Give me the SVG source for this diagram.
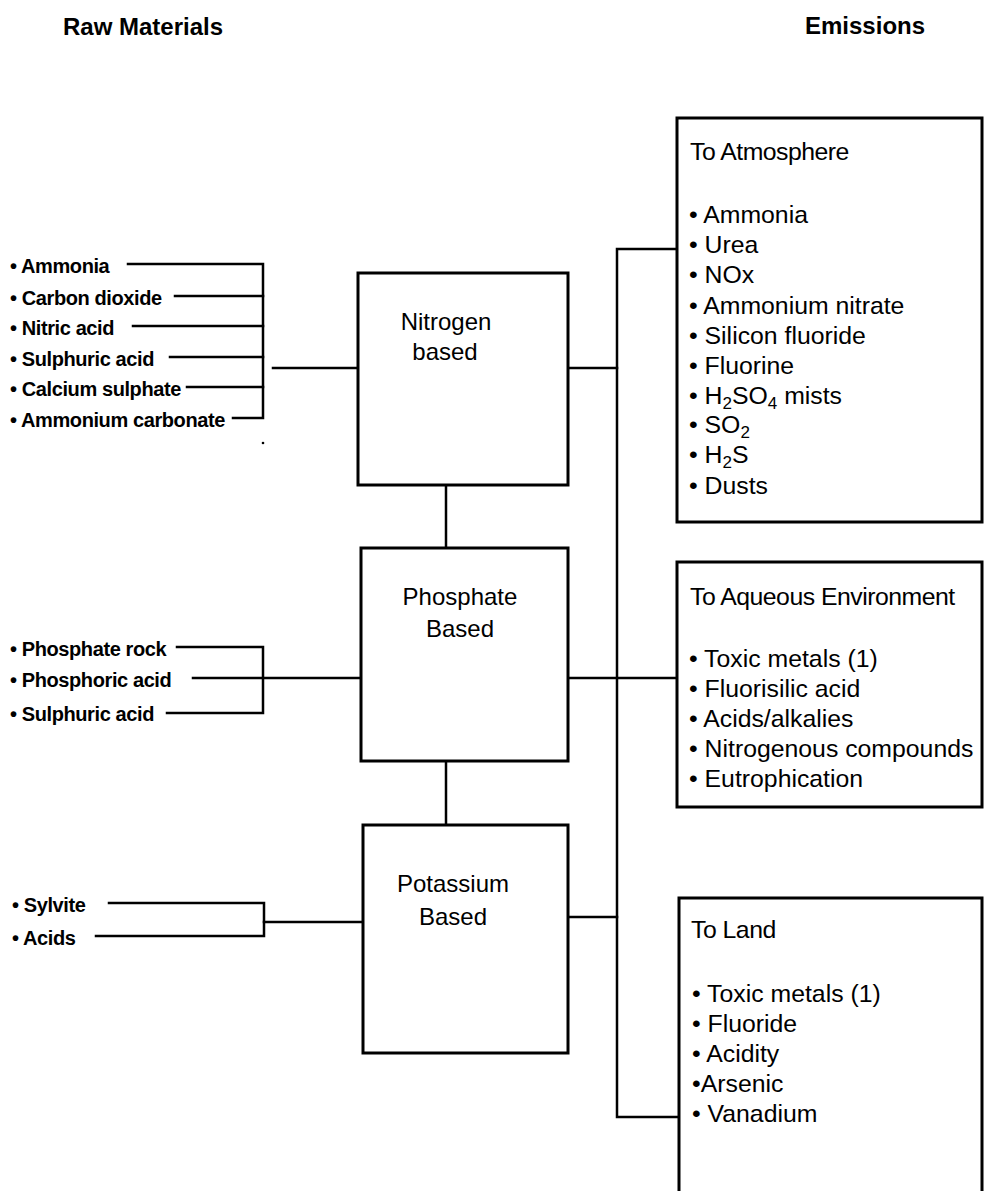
<svg xmlns="http://www.w3.org/2000/svg" width="984" height="1191" viewBox="0 0 984 1191">
  <style>
    .hdr { font-family: "Liberation Sans", Arial, sans-serif; font-weight: bold; font-size: 24px; fill: #000; }
    .raw { font-family: "Liberation Sans", Arial, sans-serif; font-weight: bold; font-size: 20px; letter-spacing: -0.4px; fill: #000; }
    .ttl { font-family: "Liberation Sans", Arial, sans-serif; font-size: 24px; fill: #000; text-anchor: middle; }
    .em  { font-family: "Liberation Sans", Arial, sans-serif; font-size: 24.8px; fill: #000; }
    .sub { font-size: 17px; }
    .box { fill: #fff; stroke: #000; stroke-width: 3; }
    .wire { fill: none; stroke: #000; stroke-width: 2.5; stroke-linecap: square; stroke-linejoin: miter; }
  </style>
  <rect width="984" height="1191" fill="#fff"/>

  <!-- column headings -->
  <g id="headings">
    <text class="hdr" x="63" y="35">Raw Materials</text>
    <text class="hdr" x="805" y="34">Emissions</text>
  </g>

  <!-- connectors -->
  <g id="connectors">
    <!-- nitrogen inputs -->
    <path class="wire" d="M128 264 H263 V418 H233"/>
    <path class="wire" d="M175 296 H263"/>
    <path class="wire" d="M133 326 H263"/>
    <path class="wire" d="M170 357 H263"/>
    <path class="wire" d="M187 387 H263"/>
    <path class="wire" d="M273 368 H358"/>
    <!-- phosphate inputs -->
    <path class="wire" d="M177 647 H263 V713 H167"/>
    <path class="wire" d="M193 678 H361"/>
    <!-- potassium inputs -->
    <path class="wire" d="M109 903 H264 V936 H96"/>
    <path class="wire" d="M264 922 H363"/>
    <!-- links between process boxes -->
    <path class="wire" d="M446 485 V548"/>
    <path class="wire" d="M446 761 V825"/>
    <!-- emissions bus -->
    <path class="wire" d="M677 249 H617 V1117 H679"/>
    <path class="wire" d="M568 368 H617"/>
    <path class="wire" d="M568 678 H677"/>
    <path class="wire" d="M568 917 H617"/>
    <circle cx="263" cy="443" r="1.3" fill="#000"/>
  </g>

  <!-- raw material lists -->
  <g id="raw-nitrogen">
    <text class="raw" x="10" y="273">• Ammonia</text>
    <text class="raw" x="10" y="305">• Carbon dioxide</text>
    <text class="raw" x="10" y="335">• Nitric acid</text>
    <text class="raw" x="10" y="366">• Sulphuric acid</text>
    <text class="raw" x="10" y="396">• Calcium sulphate</text>
    <text class="raw" x="10" y="427">• Ammonium carbonate</text>
  </g>
  <g id="raw-phosphate">
    <text class="raw" x="10" y="656">• Phosphate rock</text>
    <text class="raw" x="10" y="687">• Phosphoric acid</text>
    <text class="raw" x="10" y="721">• Sulphuric acid</text>
  </g>
  <g id="raw-potassium">
    <text class="raw" x="12" y="912">• Sylvite</text>
    <text class="raw" x="12" y="945">• Acids</text>
  </g>

  <!-- process boxes -->
  <g id="nitrogen">
    <rect class="box" x="358" y="273" width="210" height="212"/>
    <text class="ttl" x="446" y="330">Nitrogen</text>
    <text class="ttl" x="445" y="360">based</text>
  </g>
  <g id="phosphate">
    <rect class="box" x="361" y="548" width="207" height="213"/>
    <text class="ttl" x="460" y="605">Phosphate</text>
    <text class="ttl" x="460" y="637">Based</text>
  </g>
  <g id="potassium">
    <rect class="box" x="363" y="825" width="205" height="228"/>
    <text class="ttl" x="453" y="892">Potassium</text>
    <text class="ttl" x="453" y="925">Based</text>
  </g>

  <!-- emission boxes -->
  <g id="atmosphere">
    <rect class="box" x="677" y="118" width="305" height="404"/>
    <text class="em" x="690" y="160" letter-spacing="-0.5">To Atmosphere</text>
    <text class="em" x="689" y="223">• Ammonia</text>
    <text class="em" x="689" y="253">• Urea</text>
    <text class="em" x="689" y="283">• NOx</text>
    <text class="em" x="689" y="314">• Ammonium nitrate</text>
    <text class="em" x="689" y="344">• Silicon fluoride</text>
    <text class="em" x="689" y="374">• Fluorine</text>
    <text class="em" x="689" y="404">• H<tspan class="sub" dy="5">2</tspan><tspan dy="-5">SO</tspan><tspan class="sub" dy="5">4</tspan><tspan dy="-5"> mists</tspan></text>
    <text class="em" x="689" y="433">• SO<tspan class="sub" dy="5">2</tspan></text>
    <text class="em" x="689" y="463">• H<tspan class="sub" dy="5">2</tspan><tspan dy="-5">S</tspan></text>
    <text class="em" x="689" y="494">• Dusts</text>
  </g>
  <g id="aqueous">
    <rect class="box" x="677" y="562" width="305" height="245"/>
    <text class="em" x="690" y="605" letter-spacing="-0.5">To Aqueous Environment</text>
    <text class="em" x="689" y="667">• Toxic metals (1)</text>
    <text class="em" x="689" y="697">• Fluorisilic acid</text>
    <text class="em" x="689" y="727">• Acids/alkalies</text>
    <text class="em" x="689" y="757">• Nitrogenous compounds</text>
    <text class="em" x="689" y="787">• Eutrophication</text>
  </g>
  <g id="land">
    <path class="box" d="M679 1191 V898 H982 V1191"/>
    <text class="em" x="691" y="938" letter-spacing="-0.5">To Land</text>
    <text class="em" x="692" y="1002">• Toxic metals (1)</text>
    <text class="em" x="692" y="1032">• Fluoride</text>
    <text class="em" x="692" y="1062">• Acidity</text>
    <text class="em" x="692" y="1092">•Arsenic</text>
    <text class="em" x="692" y="1122">• Vanadium</text>
  </g>
</svg>
